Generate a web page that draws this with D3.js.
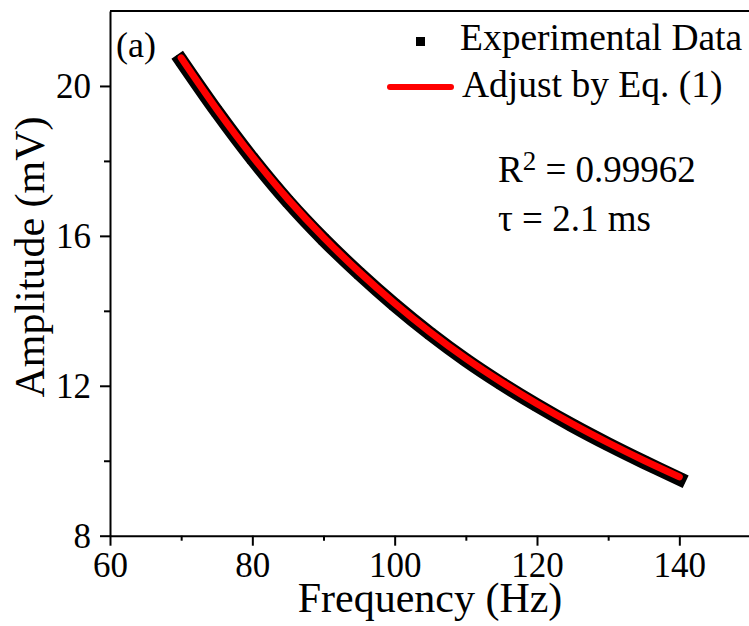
<!DOCTYPE html>
<html>
<head>
<meta charset="utf-8">
<script src="https://cdn.jsdelivr.net/npm/d3@7"></script>
<style>
html,body{margin:0;padding:0;background:#fff;}
svg{display:block;}
text{font-family:"Liberation Serif","Times New Roman",serif;fill:#000;}
</style>
</head>
<body>
<svg id="chart" width="749" height="626"></svg>
<script>
// ---- data ----
const expFreq = [70, 75, 80, 85, 90, 95, 100, 105, 110, 115, 120, 125, 130, 135, 140];
const expAmp  = [20.68, 19.32, 18.06, 16.92, 15.91, 15.00, 14.16, 13.39, 12.69, 12.06, 11.48, 10.94, 10.44, 9.97, 9.52];
const fitFreq = [70, 75, 80, 85, 90, 95, 100, 105, 110, 115, 120, 125, 130, 135, 140];
const fitAmp  = [20.75, 19.38, 18.12, 16.98, 15.96, 15.04, 14.20, 13.43, 12.73, 12.10, 11.52, 10.98, 10.48, 10.01, 9.57];
const xMajorTicks = [60, 80, 100, 120, 140];
const xMinorTicks = [70, 90, 110, 130];
const yMajorTicks = [8, 12, 16, 20];
const yMinorTicks = [10, 14, 18];
const legendLabels = ["Experimental Data", "Adjust by Eq. (1)"];
const panelLabel = "(a)";
const xTitle = "Frequency (Hz)";
const yTitle = "Amplitude (mV)";

(function () {
const svg = d3.select("#chart");
const pL = 110, pR = 750.5, pT = 11, pB = 535.7;
const x = d3.scaleLinear().domain([60, 150]).range([pL, pR]);
const y = d3.scaleLinear().domain([8, 22]).range([pB, pT]);

// frame (top/right border)
svg.append("line").attr("x1", pL).attr("x2", pR).attr("y1", pT).attr("y2", pT)
  .attr("stroke", "#000").attr("stroke-width", 2);
svg.append("line").attr("x1", pR).attr("x2", pR).attr("y1", pT).attr("y2", pB)
  .attr("stroke", "#000").attr("stroke-width", 2);

// x axis
const gx = svg.append("g").attr("transform", `translate(0,${pB})`);
gx.call(d3.axisBottom(x).tickValues(xMajorTicks).tickSize(10).tickPadding(8).tickSizeOuter(0));
gx.append("g").call(d3.axisBottom(x).tickValues(xMinorTicks).tickSize(5).tickFormat("").tickSizeOuter(0))
  .select(".domain").remove();
// y axis
const gy = svg.append("g").attr("transform", `translate(${pL},0)`);
gy.call(d3.axisLeft(y).tickValues(yMajorTicks).tickSize(10).tickPadding(9).tickSizeOuter(0));
gy.append("g").call(d3.axisLeft(y).tickValues(yMinorTicks).tickSize(6).tickFormat("").tickSizeOuter(0))
  .select(".domain").remove();

svg.selectAll(".domain").attr("stroke", "#000").attr("stroke-width", 2);
svg.selectAll(".tick line").attr("stroke", "#000").attr("stroke-width", 2);
svg.selectAll(".tick text").attr("font-family", "Liberation Serif").attr("font-size", 35).attr("fill", "#000");
gx.selectAll(".tick text").attr("dy", "0.68em");
gy.selectAll(".tick text").attr("dy", "0.34em");

// experimental data: dense squares -> thick band + markers
const expData = expFreq.map((f, i) => ({f, a: expAmp[i]}));
const fitData = fitFreq.map((f, i) => ({f, a: fitAmp[i]}));
const line = d3.line().x(d => x(d.f)).y(d => y(d.a)).curve(d3.curveCatmullRom);

svg.append("path").datum(expData).attr("d", line)
  .attr("fill", "none").attr("stroke", "#000").attr("stroke-width", 14).attr("stroke-linecap", "square");
svg.selectAll(".exp").data(expData).enter().append("rect")
  .attr("x", d => x(d.f) - 5).attr("y", d => y(d.a) - 5).attr("width", 10).attr("height", 10).attr("fill", "#000");

// fit line
svg.append("path").datum(fitData).attr("d", line)
  .attr("fill", "none").attr("stroke", "#ff0000").attr("stroke-width", 7).attr("stroke-linecap", "round");

// panel label
svg.append("text").attr("x", 116).attr("y", 57).attr("font-size", 36).text(panelLabel);

// legend
svg.append("rect").attr("x", 416).attr("y", 37).attr("width", 9).attr("height", 9).attr("fill", "#000");
svg.append("text").attr("x", 460).attr("y", 50).attr("font-size", 37.5).text(legendLabels[0]);
svg.append("line").attr("x1", 390).attr("x2", 451).attr("y1", 87).attr("y2", 87)
  .attr("stroke", "#ff0000").attr("stroke-width", 6).attr("stroke-linecap", "round");
svg.append("text").attr("x", 462).attr("y", 97).attr("font-size", 37.5).text(legendLabels[1]);

// stats
const r2 = svg.append("text").attr("x", 498).attr("y", 182).attr("font-size", 37);
r2.append("tspan").text("R");
r2.append("tspan").attr("font-size", 27).attr("dy", -12).text("2");
r2.append("tspan").attr("dy", 12).text(" = 0.99962");
svg.append("text").attr("x", 498).attr("y", 231).attr("font-size", 37).text("\u03c4 = 2.1 ms");

// axis titles
svg.append("text").attr("x", 430).attr("y", 612).attr("text-anchor", "middle").attr("font-size", 42).text(xTitle);
svg.append("text").attr("transform", `translate(44,257) rotate(-90)`).attr("text-anchor", "middle")
  .attr("font-size", 42).text(yTitle);
})();
</script>
</body>
</html>
